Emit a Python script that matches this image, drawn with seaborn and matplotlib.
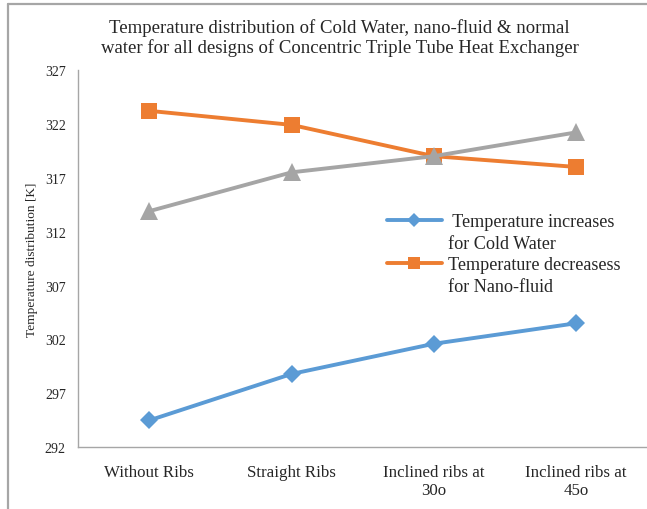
import pandas as pd
import seaborn as sns
import matplotlib.pyplot as plt
from matplotlib.lines import Line2D

designs = ["Without Ribs", "Straight Ribs", "Inclined ribs at\n30o", "Inclined ribs at\n45o"]
cold_water = [294.5, 298.8, 301.6, 303.5]
nano_fluid = [323.2, 321.9, 319.0, 318.0]
normal_water = [313.9, 317.5, 319.0, 321.2]

series = ["Cold Water", "Nano-fluid", "Normal Water"]
colors = {"Cold Water": "#5B9BD5", "Nano-fluid": "#ED7D31", "Normal Water": "#A5A5A5"}
marks = {"Cold Water": "D", "Nano-fluid": "s", "Normal Water": "^"}
msizes = {"Cold Water": 9, "Nano-fluid": 12, "Normal Water": 13}

df = pd.DataFrame({
    "design": designs * 3,
    "temp": cold_water + nano_fluid + normal_water,
    "series": [s for s in series for _ in designs],
})

sns.set_style("white")
plt.rcParams["font.family"] = ["Liberation Serif", "DejaVu Serif"]

fig = plt.figure(figsize=(6.47, 5.1), dpi=100)
ax = fig.add_axes([0.121, 0.121, 0.879, 0.740])

for s in series:
    sns.lineplot(data=df[df["series"] == s], x="design", y="temp", color=colors[s],
                 marker=marks[s], markersize=msizes[s], markeredgewidth=0,
                 linewidth=2.8, legend=False, ax=ax, sort=False)

ax.set_ylim(292, 327)
ax.set_yticks(range(292, 328, 5))
ax.set_xlim(-0.5, 3.5)
ax.set_xlabel("")
ax.set_ylabel("Temperature distribution [K]", fontsize=9.6, labelpad=5)
ax.tick_params(axis="y", labelsize=10, length=0, pad=9)
ax.tick_params(axis="x", labelsize=12.2, length=0, pad=12)
for side in ["top", "right"]:
    ax.spines[side].set_visible(False)
for side in ["left", "bottom"]:
    ax.spines[side].set_color("#A6A6A6")
    ax.spines[side].set_linewidth(1.0)

fig.text(0.525, 0.962, "Temperature distribution of Cold Water, nano-fluid & normal\n"
         "water for all designs of Concentric Triple Tube Heat Exchanger",
         ha="center", va="top", fontsize=13.5, linespacing=1.1)

blank = Line2D([], [], color="none")
handles = [
    Line2D([], [], color=colors["Cold Water"], lw=2.8, marker="D", markersize=7, markeredgewidth=0),
    blank,
    Line2D([], [], color=colors["Nano-fluid"], lw=2.8, marker="s", markersize=8, markeredgewidth=0),
    blank,
]
labels = [" Temperature increases", "for Cold Water", "Temperature decreasess", "for Nano-fluid"]
fig.legend(handles, labels, loc="upper left", bbox_to_anchor=(0.573, 0.612),
           frameon=False, fontsize=13.1, labelspacing=0.25, handlelength=3.0,
           handletextpad=0.35)

# figure frame (left and top edges only)
fig.add_artist(Line2D([7.5 / 647, 7.5 / 647], [0, 1 - 5 / 510], color="#A6A6A6", lw=1.6))
fig.add_artist(Line2D([7.5 / 647, 1], [1 - 5 / 510, 1 - 5 / 510], color="#A6A6A6", lw=1.6))

fig.savefig("out.png", dpi=100)
